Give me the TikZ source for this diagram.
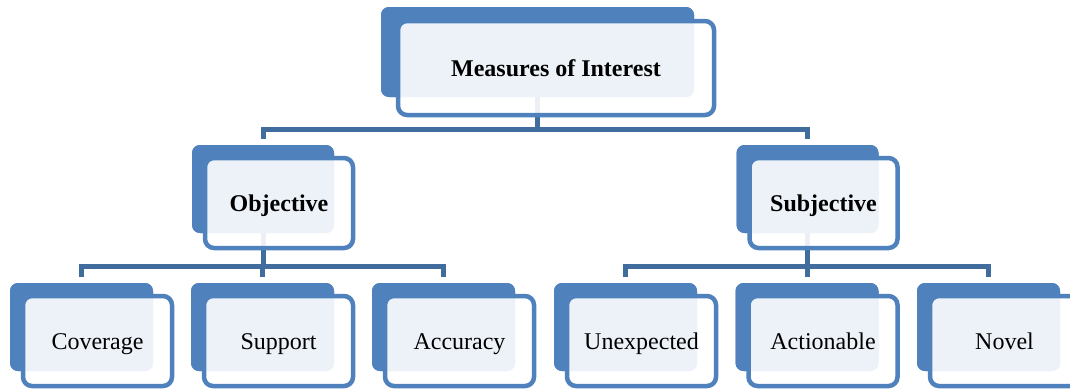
\documentclass[tikz,border=0pt]{standalone}
\usepackage{fontspec}
\setmainfont{Liberation Serif}
\definecolor{accent}{RGB}{79,129,189}
\definecolor{linkblue}{RGB}{65,108,158}
\tikzset{
  backbox/.style={rectangle, rounded corners=8pt, fill=accent, draw=none, inner sep=0pt},
  frontbox/.style={rectangle, rounded corners=9pt, draw=accent, line width=4.5pt,
    fill=white, fill opacity=0.9, text opacity=1, inner sep=0pt,
    text height=16pt, text depth=0pt,
    font=\fontsize{24}{28}\selectfont},
  headbox/.style={frontbox, font=\fontsize{24}{28}\selectfont\bfseries},
  conn/.style={draw=linkblue, line width=5pt, line join=miter},
  lowsize/.style={minimum width=143pt, minimum height=88pt},
  lowfront/.style={minimum width=149pt, minimum height=90pt}
}
\begin{document}
\begin{tikzpicture}[x=1pt,y=-1pt]
\useasboundingbox (0,0) rectangle (1070,389);

% back plates (placed first so connectors can refer to them)
\node[backbox, minimum width=313pt, minimum height=90pt] (b0) at (537.5,52) {};
\node[backbox, minimum width=142pt, minimum height=88pt] (b1) at (263,189) {};
\node[backbox, minimum width=142pt, minimum height=88pt] (b2) at (807.5,189) {};
\foreach \i/\x in {3/81.5,4/262.5,5/443.5,6/625.5,7/807,8/988.5}
  \node[backbox, lowsize] (b\i) at (\x,327) {};

% connectors: parent stub, bus and legs
\coordinate (busA) at (0,129);
\coordinate (busB) at (0,266);
\foreach \c in {1,2}
  \draw[conn] (b0.center) -- (b0.center |- busA) -| ([yshift=6pt]b\c.north);
\foreach \c in {3,4,5}
  \draw[conn] (b1.center) -- (b1.center |- busB) -| ([yshift=6pt]b\c.north);
\foreach \c in {6,7,8}
  \draw[conn] (b2.center) -- (b2.center |- busB) -| ([yshift=6pt]b\c.north);

% plates again over the connector stubs
\node[backbox, minimum width=313pt, minimum height=90pt] at (b0.center) {};
\node[backbox, minimum width=142pt, minimum height=88pt] at (b1.center) {};
\node[backbox, minimum width=142pt, minimum height=88pt] at (b2.center) {};
\foreach \i in {3,...,8}
  \node[backbox, lowsize] at (b\i.center) {};

% front cards with the labels
\node[headbox, minimum width=316pt, minimum height=94pt] (f0) at (556,68) {Measures of Interest};
\node[headbox, minimum width=148pt, minimum height=90pt] (f1) at (279,203) {Objective};
\node[headbox, minimum width=148pt, minimum height=90pt] (f2) at (823.5,203) {Subjective};
\node[frontbox, lowfront] (f3) at ([xshift=16pt,yshift=-14pt]b3.center) {Coverage};
\node[frontbox, lowfront] (f4) at ([xshift=16pt,yshift=-14pt]b4.center) {Support};
\node[frontbox, lowfront] (f5) at ([xshift=16pt,yshift=-14pt]b5.center) {Accuracy};
\node[frontbox, lowfront] (f6) at ([xshift=16pt,yshift=-14pt]b6.center) {Unexpected};
\node[frontbox, lowfront] (f7) at ([xshift=16pt,yshift=-14pt]b7.center) {Actionable};
\node[frontbox, lowfront] (f8) at ([xshift=16pt,yshift=-14pt]b8.center) {Novel};
\end{tikzpicture}
\end{document}
